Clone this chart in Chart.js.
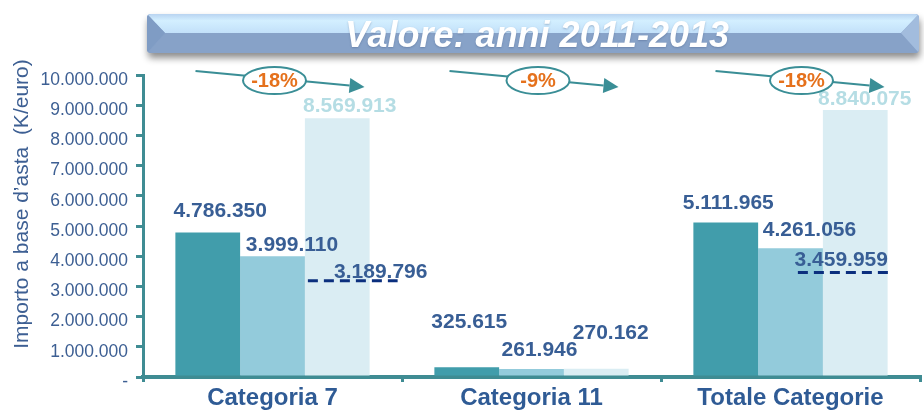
<!DOCTYPE html>
<html><head><meta charset="utf-8">
<script src="https://cdn.jsdelivr.net/npm/chart.js@4.4.0/dist/chart.umd.min.js"></script>
<style>html,body{margin:0;padding:0;background:#fff;}#wrap{width:924px;height:411px;position:relative;}</style>
</head><body><div id="wrap"><canvas id="c"></canvas></div>
<script>
// ---- data ----
const categories = ['Categoria 7', 'Categoria 11', 'Totale Categorie'];
const seriesNames = ['2011', '2012', '2013'];
const values2011 = [4786350, 325615, 5111965];
const values2012 = [3999110, 261946, 4261056];
const values2013 = [8569913, 270162, 8840075];
const dashedValues = [3189796, null, 3459959];
const changeLabels = ['-18%', '-9%', '-18%'];
const yTickLabels = ['-', '1.000.000', '2.000.000', '3.000.000', '4.000.000', '5.000.000',
  '6.000.000', '7.000.000', '8.000.000', '9.000.000', '10.000.000'];
const chartTitle = 'Valore: anni 2011-2013';
const yAxisTitle = 'Importo a base d’asta  (K/euro)';

const FONT = '"Liberation Sans", Arial, Helvetica, sans-serif';
const AXIS = '#3f8c93';
const TXT = '#385e95';
const fmt = v => String(v).replace(/\B(?=(\d{3})+(?!\d))/g, '.');

// label placement relative to bar top-centre: [category][dataset] -> [dx, dy]
const labelOffsets = [
  [[12.5, -21], [19.5, -11], [12.5, -12]],
  [[2.5, -45], [8, -19], [14.5, -36]],
  [[2.5, -19], [19, -18], [9.5, -11]]
];
// which labels use the pale colour
const paleLabel = [[false, false, true], [false, false, false], [false, false, true]];
// dashed line extents relative to third bar left/right, label offset relative to dash centre
const dashSpec = [
  {l: 3, r: 28, lx: 28, ly: -8},
  null,
  {l: -25, r: 1, lx: -2, ly: -12}
];
// arrow annotations relative to category centre
const arrowSpec = [
  {s: -77, e: 92, c: 2},
  {s: -82, e: 87, c: 6.5},
  {s: -75, e: 94, c: 11}
];

function roundRectPath(ctx, x, y, w, h, r) {
  ctx.beginPath();
  ctx.moveTo(x + r, y); ctx.lineTo(x + w - r, y); ctx.quadraticCurveTo(x + w, y, x + w, y + r);
  ctx.lineTo(x + w, y + h - r); ctx.quadraticCurveTo(x + w, y + h, x + w - r, y + h);
  ctx.lineTo(x + r, y + h); ctx.quadraticCurveTo(x, y + h, x, y + h - r);
  ctx.lineTo(x, y + r); ctx.quadraticCurveTo(x, y, x + r, y); ctx.closePath();
}
function poly(ctx, pts, color) {
  ctx.beginPath(); ctx.moveTo(pts[0][0], pts[0][1]);
  for (let i = 1; i < pts.length; i++) ctx.lineTo(pts[i][0], pts[i][1]);
  ctx.closePath(); ctx.fillStyle = color; ctx.fill();
}

function drawBanner(ctx) {
  const x0 = 147, x1 = 919, y0 = 14, y1 = 53, ym = 33, b = 18;
  ctx.save();
  ctx.shadowColor = 'rgba(0,0,0,0.45)'; ctx.shadowBlur = 7; ctx.shadowOffsetY = 5; ctx.shadowOffsetX = 1;
  roundRectPath(ctx, x0, y0, x1 - x0, y1 - y0, 4); ctx.fillStyle = '#8aa5cb'; ctx.fill();
  ctx.restore();
  ctx.save();
  roundRectPath(ctx, x0, y0, x1 - x0, y1 - y0, 4); ctx.clip();
  const g = ctx.createLinearGradient(0, y0, 0, ym);
  g.addColorStop(0, '#b9d4f1'); g.addColorStop(0.35, '#d3efff'); g.addColorStop(1, '#c2e0f9');
  poly(ctx, [[x0, y0], [x1, y0], [x1 - b, ym], [x0 + b, ym]], g);
  poly(ctx, [[x0 + b, ym], [x1 - b, ym], [x1, y1], [x0, y1]], '#87a2c8');
  poly(ctx, [[x0, y0], [x0 + b, ym], [x0, y1]], '#7f9cc4');
  poly(ctx, [[x1, y0], [x1 - b, ym], [x1, y1]], '#a2bcdd');
  ctx.restore();
  ctx.save();
  ctx.font = 'italic bold 36px ' + FONT;
  ctx.fillStyle = '#ffffff'; ctx.textAlign = 'center'; ctx.textBaseline = 'alphabetic';
  ctx.shadowColor = 'rgba(60,80,120,0.35)'; ctx.shadowBlur = 2; ctx.shadowOffsetY = 1;
  ctx.fillText(chartTitle, 537, 47);
  ctx.restore();
}

function drawYTitle(ctx) {
  ctx.save();
  ctx.translate(22, 204); ctx.rotate(-Math.PI / 2);
  ctx.font = '21px ' + FONT; ctx.fillStyle = '#3d5f93';
  ctx.textAlign = 'center'; ctx.textBaseline = 'middle';
  ctx.fillText(yAxisTitle, 0, 0);
  ctx.restore();
}

const overlay = {
  id: 'overlay',
  beforeDraw(chart) {
    drawBanner(chart.ctx);
    drawYTitle(chart.ctx);
  },
  afterDatasetsDraw(chart) {
    const ctx = chart.ctx, ys = chart.scales.y, xs = chart.scales.x;
    // dashed reference lines
    const m3 = chart.getDatasetMeta(2);
    dashedValues.forEach((v, i) => {
      if (v == null || !dashSpec[i]) return;
      const bar = m3.data[i], sp = dashSpec[i];
      const left = bar.x - bar.width / 2 + sp.l, right = bar.x + bar.width / 2 + sp.r;
      const y = ys.getPixelForValue(v);
      ctx.save();
      ctx.strokeStyle = '#0b2f7e'; ctx.lineWidth = 3; ctx.setLineDash([10, 6]);
      ctx.beginPath(); ctx.moveTo(left, y); ctx.lineTo(right, y); ctx.stroke();
      ctx.restore();
      ctx.save();
      ctx.font = 'bold 21px ' + FONT; ctx.fillStyle = TXT;
      ctx.textAlign = 'center'; ctx.textBaseline = 'middle';
      ctx.fillText(fmt(v), (left + right) / 2 + sp.lx, y + sp.ly);
      ctx.restore();
    });
    // value labels
    chart.data.datasets.forEach((ds, di) => {
      const meta = chart.getDatasetMeta(di);
      meta.data.forEach((bar, i) => {
        const off = labelOffsets[i][di];
        ctx.save();
        ctx.font = 'bold 21px ' + FONT;
        ctx.fillStyle = paleLabel[i][di] ? '#b5dde4' : TXT;
        ctx.textAlign = 'center'; ctx.textBaseline = 'middle';
        ctx.fillText(fmt(ds.data[i]), bar.x + off[0], bar.y + off[1]);
        ctx.restore();
      });
    });
    // change arrows
    changeLabels.forEach((lab, i) => {
      const cx = xs.getPixelForValue(i), sp = arrowSpec[i];
      const sx = cx + sp.s, sy = 71, ex = cx + sp.e, ey = 87;
      const ang = Math.atan2(ey - sy, ex - sx);
      const hl = 15, hw = 7.5;
      const bx = ex - hl * Math.cos(ang), by = ey - hl * Math.sin(ang);
      ctx.save();
      ctx.strokeStyle = '#3a8e96'; ctx.fillStyle = '#3a8e96'; ctx.lineWidth = 2;
      ctx.beginPath(); ctx.moveTo(sx, sy); ctx.lineTo(bx, by); ctx.stroke();
      ctx.beginPath();
      ctx.moveTo(ex, ey);
      ctx.lineTo(bx + hw * Math.sin(ang), by - hw * Math.cos(ang));
      ctx.lineTo(bx - hw * Math.sin(ang), by + hw * Math.cos(ang));
      ctx.closePath(); ctx.fill();
      const ecx = cx + sp.c, ecy = 80.5;
      ctx.beginPath(); ctx.ellipse(ecx, ecy, 31.5, 13.5, 0, 0, Math.PI * 2);
      ctx.fillStyle = '#ffffff'; ctx.fill(); ctx.stroke();
      ctx.font = 'bold 20px ' + FONT; ctx.fillStyle = '#e5711c';
      ctx.textAlign = 'center'; ctx.textBaseline = 'middle';
      ctx.fillText(lab, ecx, ecy + 1);
      ctx.restore();
    });
  }
};

new Chart(document.getElementById('c'), {
  type: 'bar',
  data: {
    labels: categories,
    datasets: [
      {label: seriesNames[0], data: values2011, backgroundColor: '#419dab'},
      {label: seriesNames[1], data: values2012, backgroundColor: '#93cbdb'},
      {label: seriesNames[2], data: values2013, backgroundColor: '#daedf3'}
    ]
  },
  options: {
    responsive: true,
    maintainAspectRatio: false,
    animation: false,
    layout: {padding: {top: 75, right: 4, left: 0, bottom: 0}},
    datasets: {bar: {categoryPercentage: 0.75, barPercentage: 1.0}},
    plugins: {legend: {display: false}, tooltip: {enabled: false}, title: {display: false}},
    scales: {
      x: {
        grid: {display: true, drawOnChartArea: false, offset: true, color: AXIS, lineWidth: 3, tickLength: 5},
        border: {display: true, color: AXIS, width: 4},
        ticks: {color: '#2f5b95', font: {family: FONT, size: 24, weight: 'bold'}, padding: 2, maxRotation: 0, autoSkip: false},
        afterFit(s) { s.height = 34; }
      },
      y: {
        min: 0, max: 10000000,
        grid: {display: true, drawOnChartArea: false, color: AXIS, lineWidth: 3, tickLength: 7},
        border: {display: true, color: AXIS, width: 3},
        ticks: {
          stepSize: 1000000, color: '#3d5f93', padding: 8, labelOffset: 5,
          font: {family: FONT, size: 17.5},
          callback: (v, i) => yTickLabels[i]
        },
        afterFit(s) { s.width = 143; }
      }
    }
  },
  plugins: [overlay]
});
</script></body></html>
